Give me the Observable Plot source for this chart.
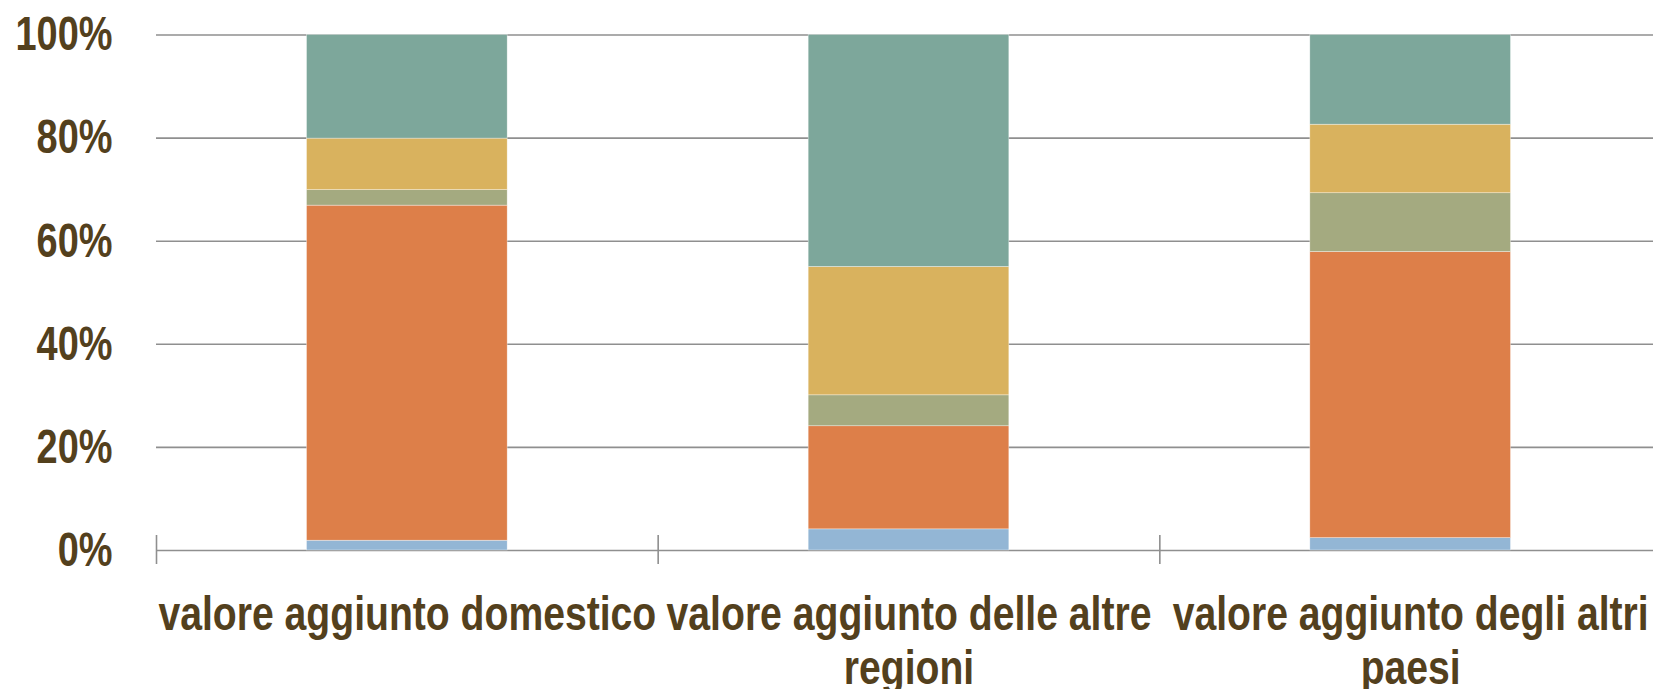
<!DOCTYPE html>
<html>
<head>
<meta charset="utf-8">
<script src="https://cdn.jsdelivr.net/npm/d3@7"></script>
<script src="https://cdn.jsdelivr.net/npm/@observablehq/plot@0.6"></script>
<style>
  html, body { margin: 0; padding: 0; background: #fff; overflow: hidden; }
  #chart svg { display: block; max-width: none !important; }
</style>
</head>
<body>
<div id="chart"></div>
<script>
// Categories (x) and their wrapped tick labels
const categories = [
  "valore aggiunto domestico",
  "valore aggiunto delle altre regioni",
  "valore aggiunto degli altri paesi"
];
const categoryLabels = [
  "valore aggiunto domestico",
  "valore aggiunto delle altre\nregioni",
  "valore aggiunto degli altri\npaesi"
];

// Stack segments, bottom to top
const series = ["blu", "arancio", "verde oliva", "giallo", "verde acqua"];
const seriesColors = ["#93b6d5", "#dd7f49", "#a4aa80", "#d9b25e", "#7da79b"];

// Shares (%) per category, in series order
const bluValues        = [1.9, 4.1, 2.4];
const arancioValues    = [65.0, 20.0, 55.5];
const verdeOlivaValues = [3.0, 6.0, 11.4];
const gialloValues     = [10.0, 24.9, 13.3];
const verdeAcquaValues = [20.1, 45.0, 17.4];

const yTicks = [0, 20, 40, 60, 80, 100];

// Build a stacked table from the arrays
const valueArrays = [bluValues, arancioValues, verdeOlivaValues, gialloValues, verdeAcquaValues];
const rows = [];
categories.forEach((cat, i) => {
  let acc = 0;
  series.forEach((s, j) => {
    const v = valueArrays[j][i];
    rows.push({category: cat, index: i, series: s, value: v, y1: acc, y2: acc + v});
    acc += v;
  });
});
const catRows = categories.map((c, i) => ({category: c, index: i, label: categoryLabels[i]}));

const textColor = "#53401d";
const gridColor = "#8f8f8f";

const chart = Plot.plot({
  width: 1661,
  height: 689,
  marginLeft: 156,
  marginRight: 0,
  marginTop: 34.5,
  marginBottom: 139,
  style: {
    fontFamily: "'Liberation Sans', Arial, sans-serif",
    fontSize: "48px",
    fontWeight: "bold",
    color: textColor,
    background: "#fff",
    overflow: "visible"
  },
  x: {type: "linear", domain: [0, categories.length], axis: null},
  y: {domain: [0, 100], axis: null},
  color: {domain: series, range: seriesColors},
  marks: [
    Plot.ruleY(yTicks, {y: d => d, stroke: gridColor, strokeWidth: 1.6}),
    Plot.rectY(rows, {
      x1: d => d.index + 0.3,
      x2: d => d.index + 0.7,
      y1: "y1",
      y2: "y2",
      fill: "series",
      stroke: "#ffffff",
      strokeWidth: 0.6,
      strokeOpacity: 0.6
    }),
    Plot.ruleX(catRows, {
      x: "index",
      y1: 0,
      y2: 0,
      insetTop: -15,
      insetBottom: -14,
      stroke: gridColor,
      strokeWidth: 1.6
    }),
    Plot.axisY({
      ticks: yTicks,
      tickFormat: d => d + "%",
      tickSize: 0,
      tickPadding: 44,
      fontSize: 48,
      fontWeight: "bold",
      fill: textColor
    }),
    Plot.text(catRows, {
      x: d => d.index + 0.5,
      y: 0,
      text: "label",
      lineAnchor: "top",
      lineHeight: 1.13,
      dy: 41,
      fontSize: 48,
      fontWeight: "bold",
      fill: textColor
    })
  ]
});

document.getElementById("chart").appendChild(chart);

// Condense glyphs horizontally to mimic the narrow bold face of the original
chart.querySelectorAll("text").forEach(t => {
  const isY = /%$/.test(t.textContent.trim());
  const k = isY ? 0.79 : 0.815;
  const spans = t.querySelectorAll("tspan");
  const targets = spans.length ? Array.from(spans) : [t];
  targets.forEach(s => {
    const w = s.getComputedTextLength();
    s.setAttribute("textLength", (w * k).toFixed(1));
    s.setAttribute("lengthAdjust", "spacingAndGlyphs");
  });
});
</script>
</body>
</html>
